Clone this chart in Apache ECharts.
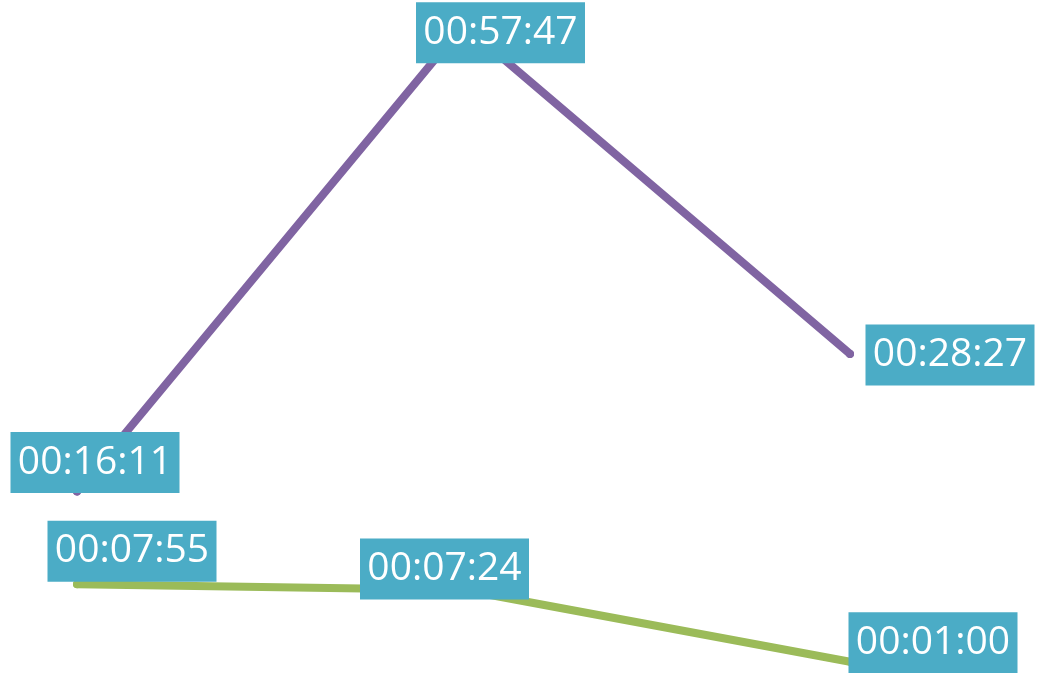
<!DOCTYPE html>
<html>
<head>
<meta charset="utf-8">
<script src="https://cdn.jsdelivr.net/npm/echarts@6/dist/echarts.min.js"></script>
<style>
html,body{margin:0;padding:0;background:#fff;}
#c{width:1043px;height:673px;}
</style>
</head>
<body>
<div id="c"></div>
<script>
// Data
var categories = ['A', 'B', 'C'];
var purpleLabels = ['00:16:11', '00:57:47', '00:28:27'];
var greenLabels = ['00:07:55', '00:07:24', '00:01:00'];

function toSec(s) { var p = s.split(':').map(Number); return p[0] * 3600 + p[1] * 60 + p[2]; }
var purpleValues = purpleLabels.map(toSec);
var greenValues = greenLabels.map(toSec);

// label offsets (styling)
var purpleOffsets = [[18, -29], [37, 8], [100, 1]];
var greenOffsets = [[55, -33], [-19, -21], [83, -19]];

function build(values, labels, offsets) {
  return values.map(function (v, i) {
    return { value: v, label: { offset: offsets[i], formatter: labels[i] } };
  });
}

var labelStyle = {
  show: true,
  position: 'inside',
  color: '#ffffff',
  fontFamily: 'Open Sans',
  fontSize: 39,
  backgroundColor: '#4BACC6',
  width: 169,
  align: 'center',
  verticalAlign: 'middle',
  lineHeight: 45,
  padding: [8, 0]
};

var chart = echarts.init(document.getElementById('c'), null, { renderer: 'canvas' });
chart.setOption({
  animation: false,
  grid: { left: 77, right: 193, top: 0, bottom: 0 },
  xAxis: { type: 'category', data: categories, boundaryGap: false, show: false },
  yAxis: { type: 'value', min: 0, max: 3600, show: false },
  series: [
    {
      type: 'line', data: build(greenValues, greenLabels, greenOffsets),
      symbol: 'circle', symbolSize: 8,
      lineStyle: { color: '#9BBB59', width: 8, cap: 'round' },
      itemStyle: { color: '#9BBB59' },
      label: labelStyle, z: 2
    },
    {
      type: 'line', data: build(purpleValues, purpleLabels, purpleOffsets),
      symbol: 'circle', symbolSize: 8,
      lineStyle: { color: '#8064A2', width: 8, cap: 'round' },
      itemStyle: { color: '#8064A2' },
      label: labelStyle, z: 3
    }
  ]
});
</script>
</body>
</html>
